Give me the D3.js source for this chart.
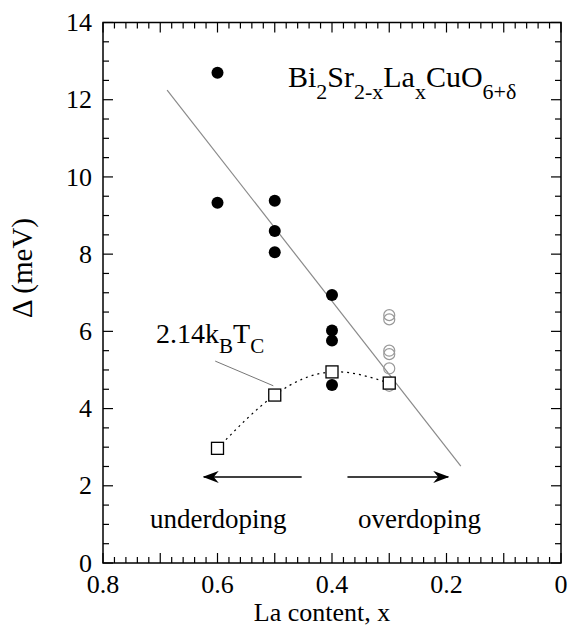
<!DOCTYPE html>
<html lang="en">
<head>
    <meta charset="UTF-8">
    <title>Gap vs La content</title>
    <script src="https://d3js.org/d3.v7.min.js"></script>
    <style>
        body { margin: 0; background: white; }
        text { font-family: "Liberation Serif", "Times New Roman", serif; fill: black; }
    </style>
</head>
<body>
<svg id="main" width="573" height="627" font-family="Liberation Serif"></svg>
<script>
    // measured gap values (filled), overdoped samples (open), 2.14 kB Tc (squares)
    let filledX = [0.6, 0.6, 0.5, 0.5, 0.5, 0.4, 0.4, 0.4, 0.4];
    let filledY = [12.7, 9.33, 9.38, 8.6, 8.05, 6.94, 6.02, 5.76, 4.61];
    let openX = [0.3, 0.3, 0.3, 0.3, 0.3, 0.3];
    let openY = [6.42, 6.31, 5.5, 5.41, 5.04, 4.59];
    let tcX = [0.6, 0.5, 0.4, 0.3];
    let tcY = [2.97, 4.35, 4.95, 4.66];
    let fitX = [0.688, 0.175];
    let fitY = [12.25, 2.51];
    let xTickLabels = [0.8, 0.6, 0.4, 0.2, 0];
    let yTickLabels = [0, 2, 4, 6, 8, 10, 12, 14];

    let svg = d3.select('svg#main');
    let box = {left: 103, right: 561, top: 22.5, bottom: 563};

    let xScale = d3.scaleLinear().domain([0.8, 0]).range([box.left, box.right]);
    let yScale = d3.scaleLinear().domain([0, 14]).range([box.bottom, box.top]);

    // frame
    svg.append('rect')
        .attr('x', box.left).attr('y', box.top)
        .attr('width', box.right - box.left).attr('height', box.bottom - box.top)
        .attr('fill', 'none').attr('stroke', 'black').attr('stroke-width', 1.5);

    // inward ticks on all four sides
    let xMinor = d3.range(0, 41).map(function(i){return i * 0.02;});
    let yMinor = d3.range(0, 29).map(function(i){return i * 0.5;});
    function isMajorX(v){ return Math.abs(v * 10 - Math.round(v * 10)) < 1e-6; }
    function isMajorY(v){ return Math.abs(v / 2 - Math.round(v / 2)) < 1e-6; }

    let ticks = svg.append('g').attr('stroke', 'black').attr('stroke-width', 1.2);
    xMinor.forEach(function(v){
        let len = isMajorX(v) ? 10 : 6;
        let px = xScale(v);
        ticks.append('line').attr('x1', px).attr('x2', px).attr('y1', box.bottom).attr('y2', box.bottom - len);
        ticks.append('line').attr('x1', px).attr('x2', px).attr('y1', box.top).attr('y2', box.top + len);
    });
    yMinor.forEach(function(v){
        let len = isMajorY(v) ? 10 : 6;
        let py = yScale(v);
        ticks.append('line').attr('y1', py).attr('y2', py).attr('x1', box.left).attr('x2', box.left + len);
        ticks.append('line').attr('y1', py).attr('y2', py).attr('x1', box.right).attr('x2', box.right - len);
    });

    // tick labels
    svg.selectAll('text.xt')
        .data(xTickLabels)
        .enter().append('text')
        .attr('class', 'xt')
        .attr('x', function(d){return xScale(d);})
        .attr('y', 593)
        .attr('text-anchor', 'middle')
        .style('font-size', '26px')
        .text(function(d){return d === 0 ? '0' : d3.format('.1f')(d);});

    svg.selectAll('text.yt')
        .data(yTickLabels)
        .enter().append('text')
        .attr('class', 'yt')
        .attr('x', 92)
        .attr('y', function(d){return yScale(d);})
        .attr('dy', '0.33em')
        .attr('text-anchor', 'end')
        .style('font-size', '26px')
        .text(function(d){return d;});

    // axis titles
    svg.append('text')
        .attr('x', 322).attr('y', 621)
        .attr('text-anchor', 'middle')
        .style('font-size', '26px')
        .text('La content, x');

    svg.append('text')
        .attr('transform', 'translate(32,268) rotate(-90)')
        .attr('text-anchor', 'middle')
        .style('font-size', '29px')
        .text('\u0394 (meV)');

    // linear fit line
    let fitLine = d3.line()
        .x(function(d){return xScale(d[0]);})
        .y(function(d){return yScale(d[1]);});
    svg.append('path')
        .datum(d3.zip(fitX, fitY))
        .attr('d', fitLine)
        .attr('fill', 'none')
        .attr('stroke', '#8a8a8a')
        .attr('stroke-width', 1.2);

    // dotted curve through 2.14 kB Tc
    let tcCurve = d3.line()
        .curve(d3.curveNatural)
        .x(function(d){return xScale(d[0]);})
        .y(function(d){return yScale(d[1]);});
    svg.append('path')
        .datum(d3.zip(tcX, tcY))
        .attr('d', tcCurve)
        .attr('fill', 'none')
        .attr('stroke', 'black')
        .attr('stroke-width', 1.2)
        .attr('stroke-dasharray', '2,4');

    // open circles
    svg.selectAll('circle.open')
        .data(d3.zip(openX, openY))
        .enter().append('circle')
        .attr('class', 'open')
        .attr('cx', function(d){return xScale(d[0]);})
        .attr('cy', function(d){return yScale(d[1]);})
        .attr('r', 5.5)
        .attr('fill', 'none')
        .attr('stroke', '#999')
        .attr('stroke-width', 1.2);

    // filled circles
    svg.selectAll('circle.filled')
        .data(d3.zip(filledX, filledY))
        .enter().append('circle')
        .attr('class', 'filled')
        .attr('cx', function(d){return xScale(d[0]);})
        .attr('cy', function(d){return yScale(d[1]);})
        .attr('r', 6)
        .attr('fill', 'black');

    // squares
    let sq = 12;
    svg.selectAll('rect.tc')
        .data(d3.zip(tcX, tcY))
        .enter().append('rect')
        .attr('class', 'tc')
        .attr('x', function(d){return xScale(d[0]) - sq / 2;})
        .attr('y', function(d){return yScale(d[1]) - sq / 2;})
        .attr('width', sq).attr('height', sq)
        .attr('fill', 'white')
        .attr('stroke', 'black')
        .attr('stroke-width', 1.3);

    // annotation: 2.14 kB Tc label with leader
    let leaderX = [0.604, 0.5025];
    let leaderY = [5.23, 4.59];
    svg.append('path')
        .datum(d3.zip(leaderX, leaderY))
        .attr('d', fitLine)
        .attr('stroke', '#777')
        .attr('stroke-width', 1);

    let tcLabel = svg.append('text')
        .attr('x', xScale(0.7074)).attr('y', yScale(5.70))
        .style('font-size', '28px');
    tcLabel.append('tspan').text('2.14k');
    tcLabel.append('tspan').attr('dy', 10).style('font-size', '21px').text('B');
    tcLabel.append('tspan').attr('dy', -10).text('T');
    tcLabel.append('tspan').attr('dy', 10).style('font-size', '21px').text('C');

    // compound title
    let title = svg.append('text')
        .attr('x', xScale(0.477)).attr('y', yScale(12.34))
        .style('font-size', '30px');
    let parts = [['Bi', false], ['2', true], ['Sr', false], ['2-x', true], ['La', false],
                 ['x', true], ['CuO', false], ['6+\u03b4', true]];
    let sub = false;
    parts.forEach(function(p){
        let t = title.append('tspan').text(p[0]);
        if (p[1] && !sub) { t.attr('dy', 12).style('font-size', '22px'); sub = true; }
        else if (p[1]) { t.style('font-size', '22px'); }
        else if (sub) { t.attr('dy', -12); sub = false; }
    });

    // doping arrows
    svg.append('defs').append('marker')
        .attr('id', 'head')
        .attr('viewBox', '0 0 16 12')
        .attr('refX', 15).attr('refY', 6)
        .attr('markerWidth', 16).attr('markerHeight', 12)
        .attr('markerUnits', 'userSpaceOnUse')
        .attr('orient', 'auto')
        .append('path')
        .attr('d', 'M0,0 L16,6 L0,12 L5,6 Z')
        .attr('fill', 'black');

    let arrowY = 2.23;
    let arrows = [[0.453, 0.624], [0.373, 0.197]];
    arrows.forEach(function(a){
        svg.append('line')
            .attr('x1', xScale(a[0])).attr('x2', xScale(a[1]))
            .attr('y1', yScale(arrowY)).attr('y2', yScale(arrowY))
            .attr('stroke', 'black').attr('stroke-width', 1.5)
            .attr('marker-end', 'url(#head)');
    });

    svg.append('text')
        .attr('x', xScale(0.718)).attr('y', yScale(0.9))
        .style('font-size', '27px')
        .text('underdoping');
    svg.append('text')
        .attr('x', xScale(0.3546)).attr('y', yScale(0.9))
        .style('font-size', '27px')
        .text('overdoping');
</script>
</body>
</html>
